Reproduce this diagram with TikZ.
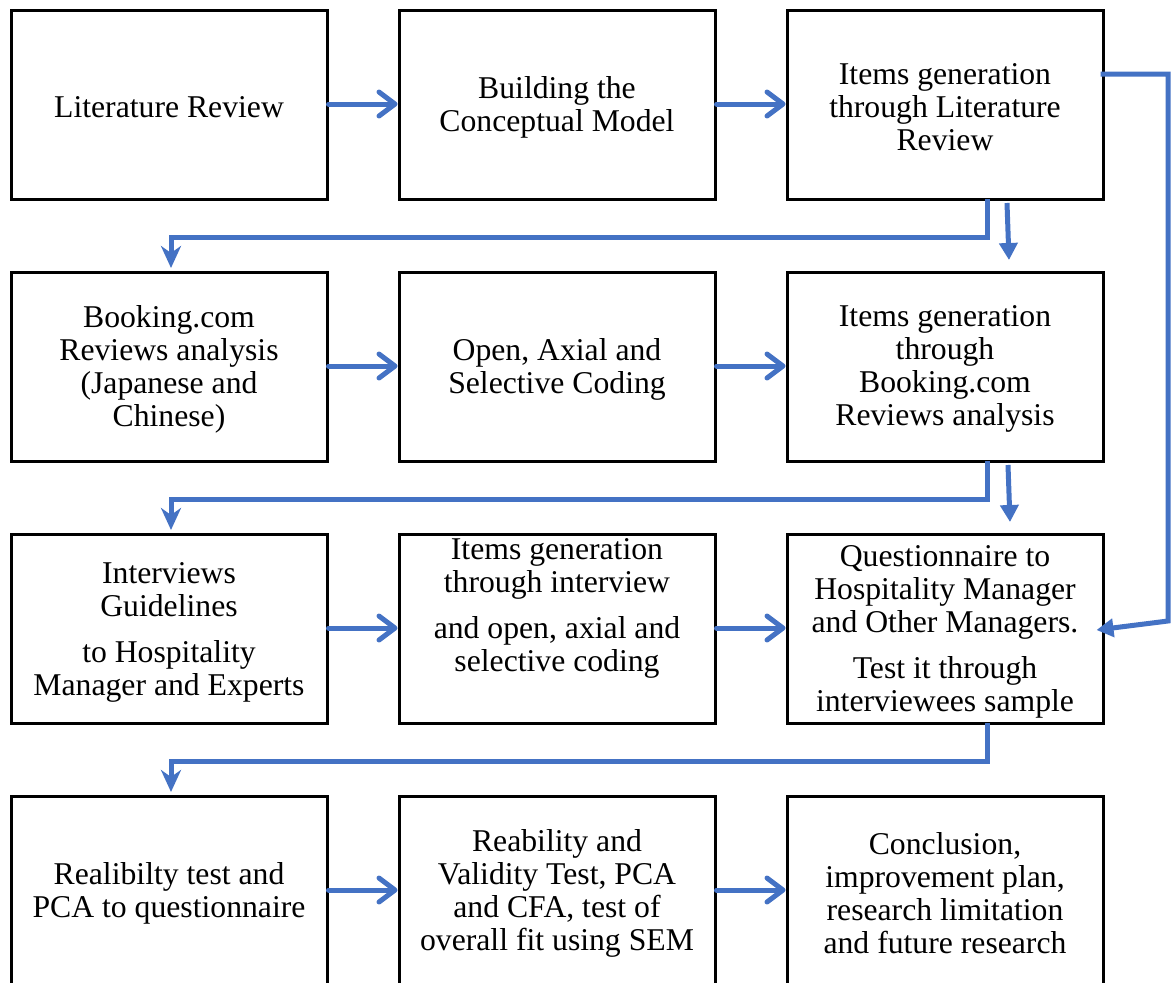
\documentclass[tikz,border=0pt]{standalone}
\usepackage{fontspec}
\setmainfont{Liberation Serif}
\usetikzlibrary{arrows.meta}
\definecolor{flowblue}{HTML}{4472C4}
\tikzset{
  box/.style={draw=black, line width=3pt, minimum width=316pt, minimum height=189pt, inner sep=0pt},
  txt/.style={align=center, inner sep=0pt, yshift=-3pt, font=\fontsize{31.7}{33}\selectfont},
  link/.style={draw=flowblue, line width=5pt},
  nextarrow/.style={link, line cap=round, -{Straight Barb[length=16pt,width=24pt,round]}},
  turnarrow/.style={link, -{Stealth[length=22pt,width=20pt,inset=7pt]}},
  droparrow/.style={link, -{Triangle[length=17pt,width=18pt]}},
}
\begin{document}
\begin{tikzpicture}[x=1pt, y=-1pt]
\useasboundingbox (0,0) rectangle (1171,983);

% boxes
\foreach \r/\yy in {1/104.5, 2/366.5, 3/628.5, 4/890.5}{
  \node[box] (b\r1) at (169,\yy) {};
  \node[box] (b\r2) at (557,\yy) {};
  \node[box] (b\r3) at (945,\yy) {};
}

% texts
\node[txt] (t11) at (169,104) {Literature Review};
\node[txt] (t12) at (557,104) {Building the\\Conceptual Model};
\node[txt] (t13) at (945,104) {Items generation\\through Literature\\Review};
\node[txt] (t21) at (169,366) {Booking.com\\Reviews analysis\\(Japanese and\\Chinese)};
\node[txt] (t22) at (557,366) {Open, Axial and\\Selective Coding};
\node[txt] (t23) at (945,366) {Items generation\\through\\Booking.com\\Reviews analysis};
\node[txt] (t31) at (169,629) {Interviews\\Guidelines\\[13pt]to Hospitality\\Manager and Experts};
\node[txt] (t32) at (557,605.5) {Items generation\\through interview\\[13pt]and open, axial and\\selective coding};
\node[txt] (t33) at (945,629) {Questionnaire to\\Hospitality Manager\\and Other Managers.\\[13pt]Test it through\\interviewees sample};
\node[txt] (t41) at (169,890) {Realibilty test and\\PCA to questionnaire};
\node[txt] (t42) at (557,890) {Reability and\\Validity Test, PCA\\and CFA, test of\\overall fit using SEM};
\node[txt] (t43) at (945,890) {Conclusion,\\improvement plan,\\research limitation\\and future research};

% arrows along each row
\foreach \r in {1,2,3,4}{
  \draw[nextarrow] ([yshift=0.5pt]b\r1.east) -- ([yshift=0.5pt]b\r2.west);
  \draw[nextarrow] ([yshift=0.5pt]b\r2.east) -- ([yshift=0.5pt]b\r3.west);
}

% turns from the end of one row to the start of the next
\foreach \r/\n in {1/2, 2/3, 3/4}{
  \draw[turnarrow] ([xshift=42pt,yshift=1.5pt]b\r3.south) -- ++(0,38) -| ([xshift=2pt,yshift=2.5pt]b\n1.north);
}

% short drops below the right-hand column
\coordinate (d1a) at (1007,203);
\coordinate (d1b) at (1009,260);
\coordinate (d2a) at (1008,465);
\coordinate (d2b) at (1010,522);
\draw[droparrow] (d1a) -- (d1b);
\draw[droparrow] (d2a) -- (d2b);

% feedback from the first item generation to the questionnaire
\coordinate (fbA) at (1168,74);
\coordinate (fbB) at (1168,621);
\draw[link, -{Triangle[length=17pt,width=18pt]}]
  ([xshift=-4pt,yshift=30.5pt]b13.east) -- (fbA) -- (fbB) -- ([xshift=-8pt,yshift=-1.5pt]b33.east);
\end{tikzpicture}
\end{document}
